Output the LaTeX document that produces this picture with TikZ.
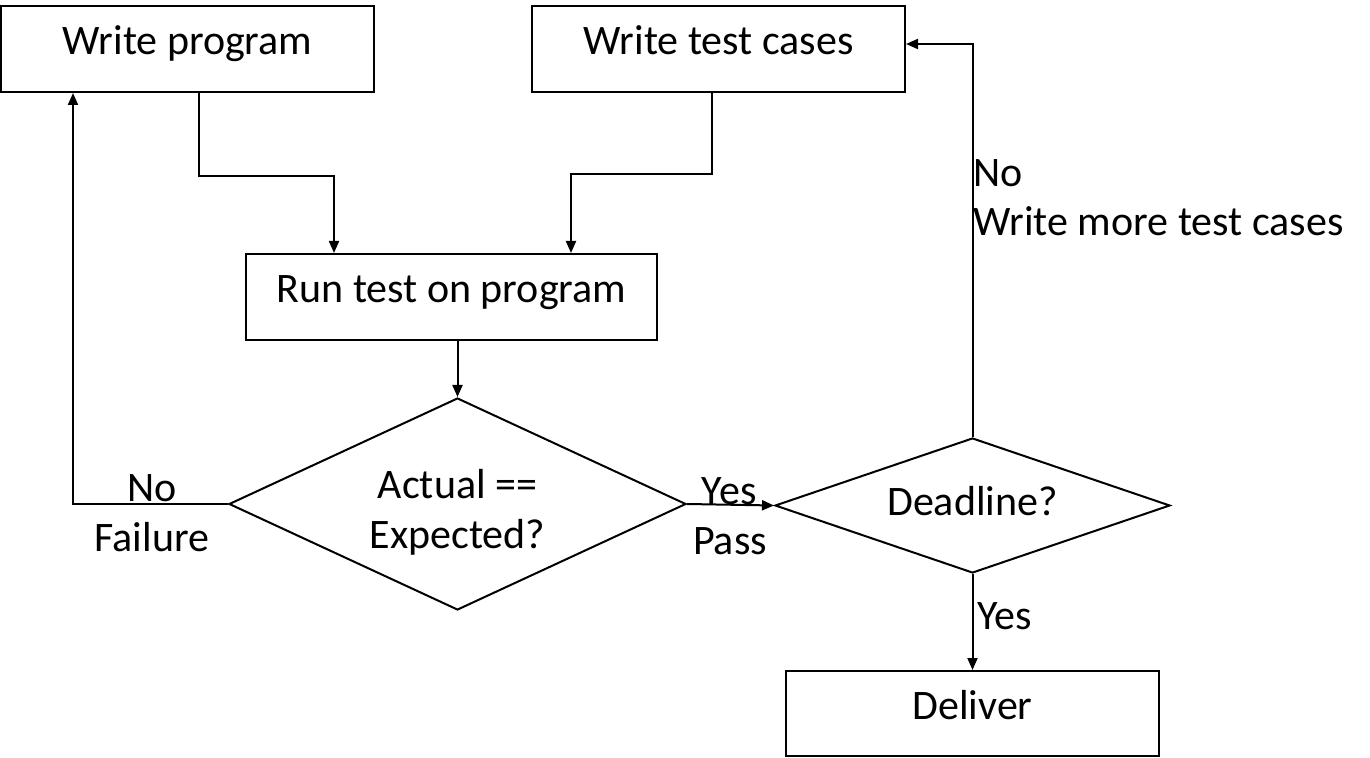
\documentclass[tikz,border=0pt]{standalone}
\usepackage{fontspec}
\setmainfont{Carlito}
\usetikzlibrary{arrows.meta,shapes.geometric}

\tikzset{
	box/.style={shape=rectangle, draw=black, line width=1pt, inner sep=0pt,
		text height=15pt, text depth=9pt},
	decision/.style={shape=diamond, draw=black, line width=1pt, inner sep=0pt},
	flow/.style={line width=1pt, -{Triangle[length=6pt,width=5pt]}},
	lbl/.style={inner sep=0pt, anchor=base},
}

\begin{document}
\begin{tikzpicture}[x=0.5pt, y=-0.5pt, font=\fontsize{21}{25}\selectfont]
	\useasboundingbox (0,0) rectangle (1370,758);

	\node[box, minimum width=186.5pt, minimum height=43pt] (wprog)    at (187.5,49)  {Write program};
	\node[box, minimum width=186.5pt, minimum height=43pt] (wtest)    at (718.5,49)  {Write test cases};
	\node[box, minimum width=205.5pt, minimum height=43pt] (runtest)  at (451.5,297) {Run test on program};
	\node[decision, minimum width=228.5pt, minimum height=106pt, aspect=2.15] (actual)   at (457.5,504) {};
	\node[align=center, inner sep=0pt] (actualtxt) at (457.5,512) {Actual ==\\Expected?};
	\node[decision, minimum width=197.5pt, minimum height=67.5pt, aspect=2.9,
		text height=14pt, text depth=3.5pt] (deadline) at (972.5,505.5) {Deadline?};
	\node[box, minimum width=186.5pt, minimum height=42.5pt] (deliver)  at (972.5,713.5) {Deliver};

	\node[lbl] (nofail)   at (152,502) {No};
	\node[lbl] (failure)  at (152,552) {Failure};
	\node[lbl] (yespass)  at (729,505) {Yes};
	\node[lbl] (pass)     at (730,554) {Pass};
	\node[lbl, anchor=base west] (nomore)    at (973,187) {No};
	\node[lbl, anchor=base west] (writemore) at (973,236) {Write more test cases};
	\node[lbl, anchor=base west] (yesdel)    at (977,629) {Yes};

	\draw[flow] ([xshift=5.75pt]wprog.south) |- (334,176) -- ([xshift=-58.75pt]runtest.north);
	\draw[flow] ([xshift=-3.25pt]wtest.south) |- (571,174) -- ([xshift=59.75pt]runtest.north);
	\draw[flow] (runtest.south -| actual.north) -- (actual.north);
	\draw[flow] (actual.west) -| ([xshift=-57.25pt]wprog.south);
	\draw[flow] (actual.east) -- (deadline.west);
	\draw[flow] (deadline.north) |- ([yshift=2.5pt]wtest.east);
	\draw[flow] (deadline.south) -- (deliver.north);
\end{tikzpicture}
\end{document}
